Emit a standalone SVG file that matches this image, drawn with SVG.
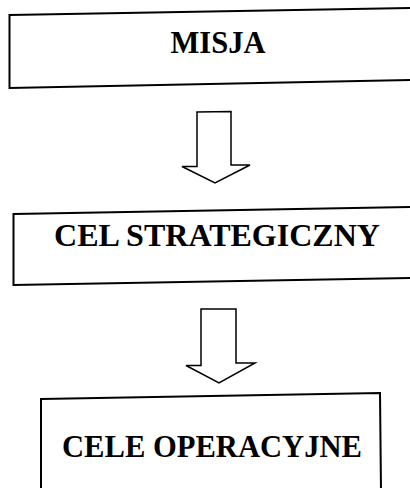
<svg xmlns="http://www.w3.org/2000/svg" width="410" height="488" viewBox="0 0 410 488">
<style>
.box{fill:#fff;stroke:#000;stroke-width:2}
.arrow{fill:#fff;stroke:#000;stroke-width:1.5;stroke-linejoin:miter}
.lbl{font-family:"Liberation Serif","Times New Roman",serif;font-weight:bold;font-size:31px;fill:#000;text-anchor:middle}
</style>
<rect width="410" height="488" fill="#fff"/>
<g id="misja">
<polygon class="box" points="9.5,15 414,8 414,80 9.5,88"/>
<text class="lbl" x="218" y="53" textLength="95" lengthAdjust="spacingAndGlyphs">MISJA</text>
</g>
<g id="cel-strategiczny">
<polygon class="box" points="13.5,214 414,207 414,278 13.5,285"/>
<text class="lbl" x="217" y="246" textLength="326" lengthAdjust="spacingAndGlyphs">CEL STRATEGICZNY</text>
</g>
<g id="cele-operacyjne">
<polygon class="box" points="41,399 380,393 381,492 41,492"/>
<text class="lbl" x="212" y="457" textLength="300" lengthAdjust="spacingAndGlyphs">CELE OPERACYJNE</text>
</g>
<g id="connectors">
<polygon class="arrow" points="197,112 231,111.5 231,165 250,165 215,183 182,166.5 197,166.5"/>
<polygon class="arrow" points="201,309 236,309 236,363 255,363 219,383 186,365.5 201,365.5"/>
</g>
</svg>
